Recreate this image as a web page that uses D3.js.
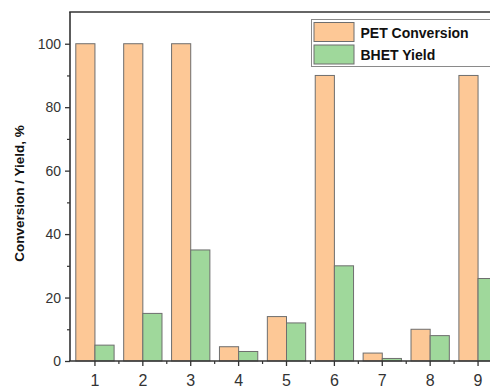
<!DOCTYPE html>
<html>
<head>
<meta charset="utf-8">
<script src="https://cdn.jsdelivr.net/npm/d3@7"></script>
<style>
  body { margin: 0; background: #fff; }
  svg { display: block; font-family: "Liberation Sans", Arial, sans-serif; }
</style>
</head>
<body>
<script>
// data
const runs = ['1', '2', '3', '4', '5', '6', '7', '8', '9'];
const petConversion = [100, 100, 100, 4.5, 14, 90, 2.5, 10, 90];
const bhetYield = [5, 15, 35, 3, 12, 30, 0.8, 8, 26];
const seriesNames = ['PET Conversion', 'BHET Yield'];
const seriesColors = ['#fdc896', '#9fd89b'];
const yTicks = [0, 20, 40, 60, 80, 100];
const yMinorTicks = [10, 30, 50, 70, 90];

const W = 490, H = 391;
const margin = { left: 71, top: 12, right: -12, bottom: 30 };
const axisColor = '#333';

const svg = d3.select('body').append('svg')
  .attr('width', W)
  .attr('height', H);

const x0 = d3.scaleBand()
  .domain(runs)
  .range([margin.left, W - margin.right]);

const x1 = d3.scaleBand()
  .domain(seriesNames)
  .range([0, x0.bandwidth()])
  .paddingOuter(0.25);

const y = d3.scaleLinear()
  .domain([0, 110])
  .range([H - margin.bottom, margin.top]);

const rows = runs.map((r, i) => ({ run: r, values: [petConversion[i], bhetYield[i]] }));

// bars
const groups = svg.append('g').selectAll('g')
  .data(rows)
  .enter().append('g')
  .attr('transform', d => `translate(${x0(d.run)},0)`);

groups.selectAll('rect')
  .data(d => d.values.map((v, k) => ({ name: seriesNames[k], v, k })))
  .enter().append('rect')
  .attr('x', d => x1(d.name))
  .attr('y', d => y(d.v))
  .attr('width', x1.bandwidth())
  .attr('height', d => y(0) - y(d.v))
  .attr('fill', d => seriesColors[d.k])
  .attr('stroke', '#6e6e6e')
  .attr('stroke-width', 1);

// y axis
const yAxis = svg.append('g')
  .attr('transform', `translate(${margin.left - 1},0)`)
  .call(d3.axisLeft(y).tickValues(yTicks).tickSize(5).tickPadding(4));
yAxis.select('.domain').remove();
yAxis.selectAll('line').attr('stroke', axisColor).attr('stroke-width', 1.3);
yAxis.selectAll('text').attr('font-size', 14).attr('fill', axisColor);

svg.append('g')
  .attr('transform', `translate(${margin.left - 1},0)`)
  .call(d3.axisLeft(y).tickValues(yMinorTicks).tickSize(3).tickFormat(''))
  .call(g => g.select('.domain').remove())
  .selectAll('line').attr('stroke', axisColor).attr('stroke-width', 1.2);

// x axis
const xAxis = svg.append('g')
  .attr('transform', `translate(0,${y(0)})`)
  .call(d3.axisBottom(x0).tickSize(5).tickPadding(9));
xAxis.select('.domain').remove();
xAxis.selectAll('line').attr('stroke', axisColor).attr('stroke-width', 1.3);
xAxis.selectAll('text').attr('font-size', 16).attr('fill', axisColor);

// minor x ticks at group boundaries
svg.append('g').selectAll('line')
  .data(runs.slice(1))
  .enter().append('line')
  .attr('x1', d => x0(d)).attr('x2', d => x0(d))
  .attr('y1', y(0)).attr('y2', y(0) + 3)
  .attr('stroke', axisColor).attr('stroke-width', 1.2);

// frame lines
const xr = x0.range();
svg.append('line')
  .attr('x1', xr[0] - 1).attr('x2', xr[0] - 1)
  .attr('y1', y(110)).attr('y2', y(0))
  .attr('stroke', axisColor).attr('stroke-width', 1.6);
svg.append('line')
  .attr('x1', xr[0] - 1.8).attr('x2', xr[1])
  .attr('y1', y(0)).attr('y2', y(0))
  .attr('stroke', axisColor).attr('stroke-width', 1.6);
svg.append('line')
  .attr('x1', xr[0] - 1.8).attr('x2', xr[1])
  .attr('y1', y(110)).attr('y2', y(110))
  .attr('stroke', axisColor).attr('stroke-width', 1.6);

// y label
svg.append('text')
  .attr('transform', `translate(24,${(y(0) + y(110)) / 2 + 7}) rotate(-90)`)
  .attr('text-anchor', 'middle')
  .attr('font-size', 13.5)
  .attr('font-weight', 'bold')
  .attr('fill', '#111')
  .text('Conversion / Yield, %');

// legend
const legend = svg.append('g').attr('transform', 'translate(311.5,19.5)');
legend.append('rect')
  .attr('width', 200).attr('height', 47)
  .attr('fill', '#fff')
  .attr('stroke', '#8a8a8a').attr('stroke-width', 1);

legend.selectAll('.sw')
  .data(seriesNames)
  .enter().append('rect')
  .attr('x', 2.5)
  .attr('y', (d, i) => 3 + i * 22.5)
  .attr('width', 40)
  .attr('height', 19)
  .attr('fill', (d, i) => seriesColors[i])
  .attr('stroke', '#6e6e6e');

legend.selectAll('.lt')
  .data(seriesNames)
  .enter().append('text')
  .attr('x', 49)
  .attr('y', (d, i) => 18 + i * 22.5)
  .attr('font-size', 14)
  .attr('font-weight', 'bold')
  .attr('fill', '#111')
  .text(d => d);
</script>
</body>
</html>
